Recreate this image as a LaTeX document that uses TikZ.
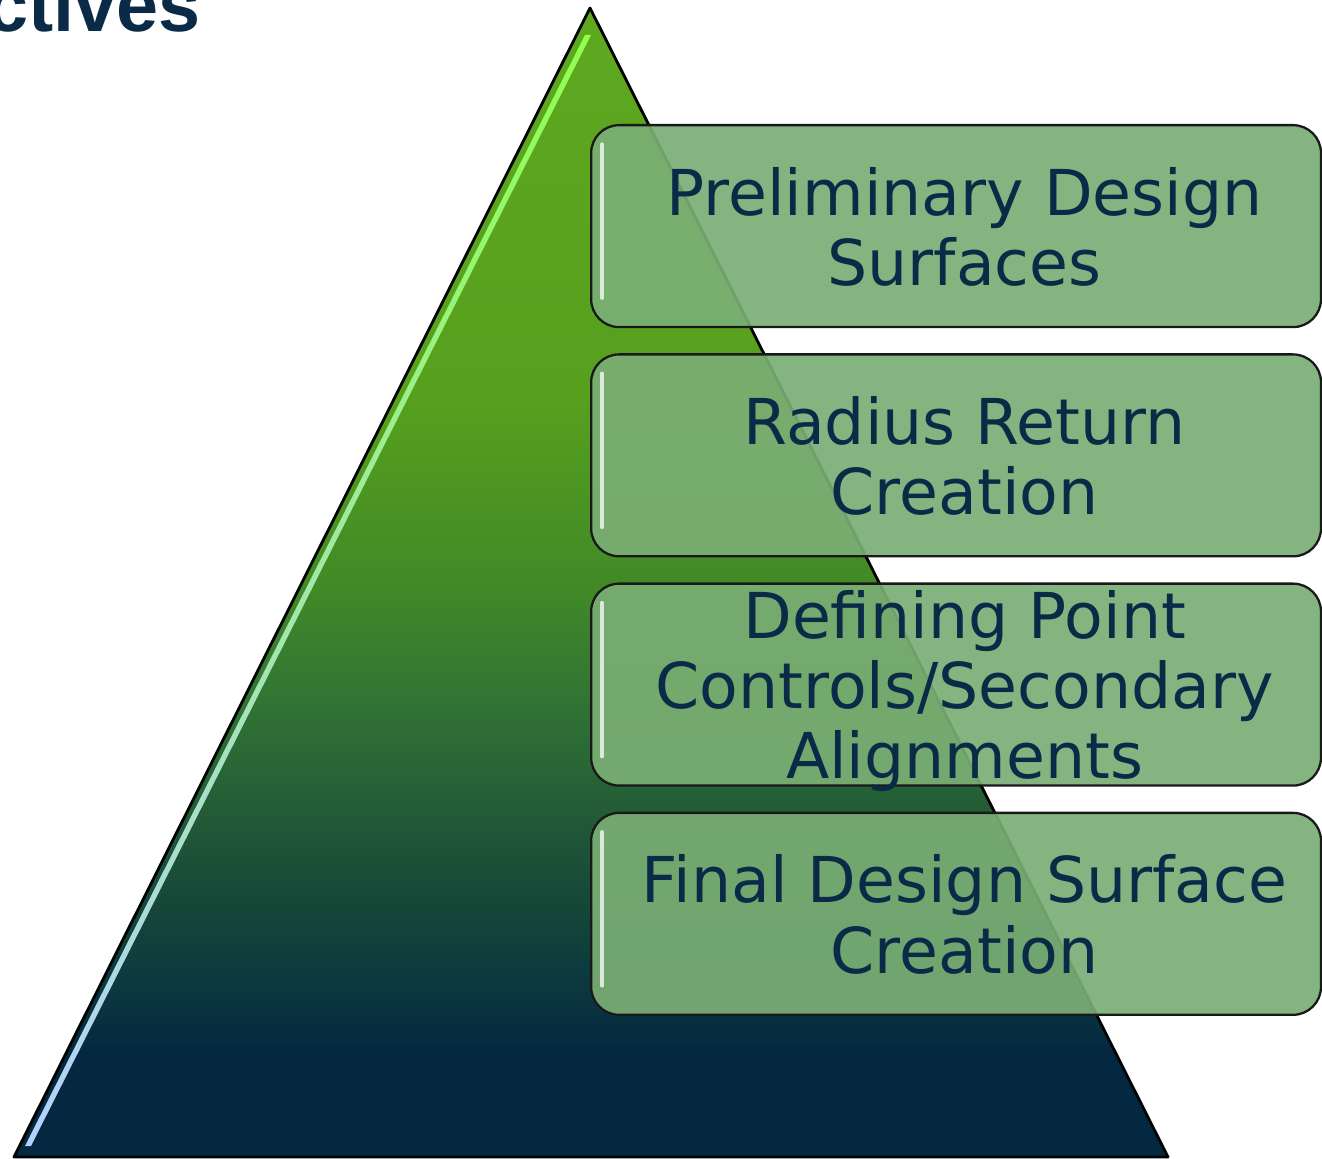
\documentclass[tikz,border=0pt]{standalone}
\usepackage{fontspec}
\setmainfont{DejaVu Sans}
\newfontfamily\headfont{Liberation Sans}
\usepackage{tikz}
\usetikzlibrary{positioning}
\definecolor{navytext}{HTML}{0B2A47}
\definecolor{boxgreen}{RGB}{122,174,116}
\definecolor{pyrnavy}{HTML}{03283F}
\definecolor{pyrteal}{HTML}{0A3540}
\definecolor{pyrdeep}{HTML}{164838}
\definecolor{pyrmid}{HTML}{327434}
\definecolor{pyrgrass}{HTML}{428A26}
\definecolor{pyrlight}{HTML}{56A01E}
\definecolor{pyrtop}{HTML}{5FA820}
\pgfdeclareverticalshading{pyramidshade}{100bp}{color(0bp)=(pyrnavy); color(29.6bp)=(pyrnavy); color(31.9bp)=(pyrteal); color(36.2bp)=(pyrdeep); color(44.9bp)=(pyrmid); color(50.1bp)=(pyrgrass); color(58bp)=(pyrlight); color(75bp)=(pyrtop); color(100bp)=(pyrtop)}
\tikzset{
x=0.02cm, y=-0.02cm, % one unit is one pixel of the picture
node distance=0.50cm, % gap between two steps
stepbox/.style={draw=black!90, line width=1.3pt, rounded corners=0.56cm, fill=boxgreen, fill opacity=0.92, minimum width=14.6cm, minimum height=4.04cm, inner sep=0pt}, % the glassy step boxes
steptext/.style={text=navytext, font=\fontsize{36}{40}\selectfont, align=center, text depth=0pt}, % the words on the steps
shine/.style={white, line width=1.8pt, opacity=0.75, line cap=round}, % highlight inside a box
}

\begin{document}
\begin{tikzpicture}
                \useasboundingbox (0,0) rectangle (1322,1159);
                \node[font=\headfont\bfseries\fontsize{43}{46}\selectfont, text=navytext, anchor=base east, inner sep=0pt] (heading) at (201,32) {ctives};
                % the pyramid
                \coordinate (apex) at (590,8);
                \coordinate (baseleft) at (14,1157);
                \coordinate (baseright) at (1168,1157);
                \shade[shading=pyramidshade] (apex) -- (baseright) -- (baseleft) -- cycle;
                \shade[top color=green!50!lime!70!white, middle color=green!30!cyan!40!white, bottom color=cyan!40!blue!30!white]
                    (585,35) -- (591,35) -- (31,1146) -- (25,1146) -- cycle;
                \draw[line width=1.6pt, line join=round] (apex) -- (baseright) -- (baseleft) -- cycle;
                % the steps
                \node[stepbox, anchor=north west] (surfaces) at (590,124) {};
                \node[stepbox, below=of surfaces] (returns) {};
                \node[stepbox, below=of returns] (controls) {};
                \node[stepbox, below=of controls] (finals) {};
                \foreach \s in {surfaces, returns, controls, finals}
                    \draw[shine] ([shift={(0.24cm,-0.4cm)}]\s.north west) -- ([shift={(0.24cm,0.6cm)}]\s.south west);
                \node[steptext] (surfacestext) at ([xshift=0.17cm]surfaces.center) {Preliminary Design\\Surfaces};
                \node[steptext] (returnstext) at ([xshift=0.17cm]returns.center) {Radius Return\\Creation};
                \node[steptext] (controlstext) at ([xshift=0.17cm]controls.center) {Defining Point\\Controls/Secondary\\Alignments};
                \node[steptext] (finalstext) at ([xshift=0.17cm]finals.center) {Final Design Surface\\Creation};
                \end{tikzpicture}
\end{document}
